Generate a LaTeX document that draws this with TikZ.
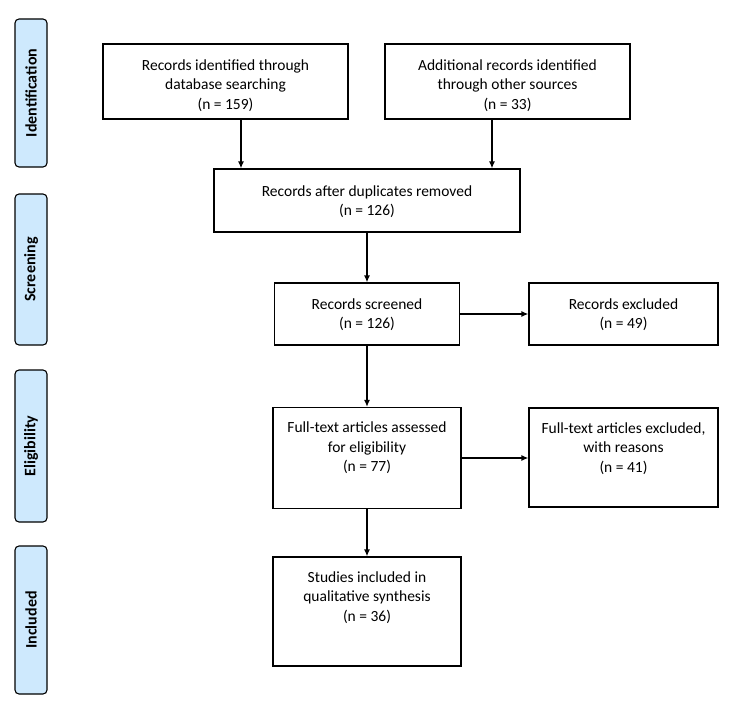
\documentclass[tikz,border=0pt]{standalone}
\usepackage{fontspec}
\setmainfont{Carlito}
\usepackage{xcolor}
\usetikzlibrary{positioning,arrows.meta}
\definecolor{phase}{RGB}{206,233,253}
\tikzset{
box/.style={draw, line width=1.1pt, minimum width=#1, inner sep=0pt},
txt/.style={align=center, font=\fontsize{15.5}{19.5}\selectfont, inner sep=0pt},
phasebox/.style={draw, line width=1.1pt, fill=phase, rounded corners=4pt, minimum width=32pt, minimum height=#1, inner sep=0pt},
phasetxt/.style={rotate=90, font=\fontsize{16}{18}\selectfont\bfseries},
arr/.style={-{Latex[length=7pt,width=6pt]}, line width=1.4pt}
}

\begin{document}
\begin{tikzpicture}[x=1pt,y=-1pt]
   \useasboundingbox (0,0) rectangle (750,717);
   % phases
   \node[phasebox=148pt] (ident) at (31,93) {};
   \node[phasetxt] at (ident) {Identification};
   \node[phasebox=151pt] (screen) at (31,269.5) {};
   \node[phasetxt] at (screen) {Screening};
   \node[phasebox=152pt] (elig) at (31,446) {};
   \node[phasetxt] at (elig) {Eligibility};
   \node[phasebox=148pt] (incl) at (31,620) {};
   \node[phasetxt] at (incl) {Included};
   % boxes
   \node[box=245pt, minimum height=75pt] (db) at (225.5,81.5) {};
   \node[txt, below=16pt of db.north] {Records identified through\\database searching\\(n = 159)};
   \node[box=245pt, minimum height=75pt] (oth) at (507.5,81.5) {};
   \node[txt, below=16pt of oth.north] {Additional records identified\\through other sources\\(n = 33)};
   \node[box=306pt, minimum height=63pt] (dup) at (367,200.5) {};
   \node[txt, below=17pt of dup.north] {Records after duplicates removed\\(n = 126)};
   \node[box=185pt, minimum height=62pt] (scr) at (367,314) {};
   \node[txt, below=16pt of scr.north] {Records screened\\(n = 126)};
   \node[box=189pt, minimum height=62pt] (exc) at (623.5,314) {};
   \node[txt, below=16pt of exc.north] {Records excluded\\(n = 49)};
   \node[box=188pt, minimum height=101pt] (full) at (367,458) {};
   \node[txt, below=15pt of full.north] {Full-text articles assessed\\for eligibility\\(n = 77)};
   \node[box=189pt, minimum height=99pt] (fexc) at (623.5,457.5) {};
   \node[txt, below=15pt of fexc.north] {Full-text articles excluded,\\with reasons\\(n = 41)};
   \node[box=188pt, minimum height=109pt] (inc) at (367,611.5) {};
   \node[txt, below=15pt of inc.north] {Studies included in\\qualitative synthesis\\(n = 36)};
   % arrows
   \draw[arr] ([xshift=15.5pt]db.south) -- ([xshift=15.5pt]db.south |- dup.north);
   \draw[arr] ([xshift=-15.5pt]oth.south) -- ([xshift=-15.5pt]oth.south |- dup.north);
   \draw[arr] (dup.south) -- (scr.north);
   \draw[arr] (scr.east) -- (exc.west);
   \draw[arr] (scr.south) -- (full.north);
   \draw[arr] (full.east) -- (full.east -| fexc.west);
   \draw[arr] (full.south) -- (inc.north);
\end{tikzpicture}
\end{document}
